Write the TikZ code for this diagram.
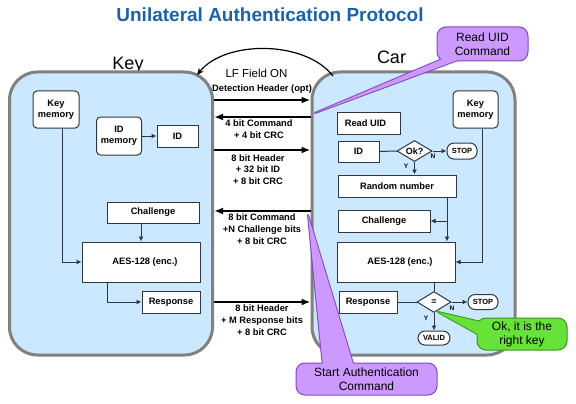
\documentclass[tikz,border=0pt]{standalone}
\usepackage{fontspec}
\setmainfont{Liberation Sans}
\usetikzlibrary{shapes.geometric,arrows.meta,calc}
\definecolor{panelfill}{RGB}{204,232,255}
\definecolor{panelline}{RGB}{128,128,128}
\definecolor{boxline}{RGB}{45,55,65}
\definecolor{titleblue}{RGB}{28,98,168}
\definecolor{lavfill}{RGB}{204,153,255}
\definecolor{lavline}{RGB}{130,70,190}
\definecolor{grnfill}{RGB}{102,226,56}
\definecolor{grnline}{RGB}{56,150,30}
\begin{document}
\begin{tikzpicture}[x=1pt,y=-1pt,
 panel/.style={draw=panelline,line width=3pt,fill=panelfill,rounded corners=28pt,minimum width=203pt,minimum height=283pt,inner sep=0pt},
 blk/.style={draw=boxline,fill=white,line width=1pt,inner sep=0pt,font=\fontsize{9.3}{11.3}\selectfont\bfseries,align=center},
 rblk/.style={blk,rounded corners=4pt},
 term/.style={blk,rounded corners=7pt,font=\fontsize{7.5}{9}\selectfont\bfseries},
 dia/.style={blk,diamond,aspect=1.667,font=\fontsize{9}{10}\selectfont\bfseries},
 msg/.style={font=\fontsize{9.3}{11.8}\selectfont\bfseries,align=center,inner sep=0pt},
 yn/.style={font=\fontsize{6.5}{7}\selectfont\bfseries,inner sep=0pt},
 flow/.style={draw=boxline,line width=1pt,-{Latex[length=5pt,width=5pt]}},
 link/.style={draw=boxline,line width=1pt},
 big/.style={line width=2.6pt,-{Latex[length=9pt,width=7pt]}},
 lfarc/.style={line width=1.2pt,-{Stealth[length=7pt,width=6pt]}},
 callL/.style={draw=lavline,fill=lavfill,line width=1pt,rounded corners=9pt,align=center,font=\fontsize{12}{14}\selectfont,inner sep=0pt},
 callG/.style={draw=grnline,fill=grnfill,line width=1pt,rounded corners=9pt,align=center,font=\fontsize{12}{14}\selectfont,inner sep=0pt}
]
\useasboundingbox (0,0) rectangle (576,404);
% title and headings
\node[anchor=base,font=\fontsize{19}{22}\selectfont\bfseries,text=titleblue,inner sep=0pt] (title) at (270,21.5) {Unilateral Authentication Protocol};
\node[anchor=base,font=\fontsize{18}{20}\selectfont,inner sep=0pt] (keyt) at (128,69.5) {Key};
\node[anchor=base,font=\fontsize{18}{20}\selectfont,inner sep=0pt] (cart) at (391.5,63.3) {Car};
% panels
\node[panel] (keyp) at (111,213.5) {};
\node[panel] (carp) at (413.5,213.5) {};
% LF field arc
\coordinate (lfR) at (333,76);
\coordinate (lfL) at (197,75);
\draw[lfarc] (lfR) .. controls (305,40) and (225,40) .. (lfL);
\node[font=\fontsize{11.5}{13}\selectfont,inner sep=0pt] (lf) at (256.5,73) {LF Field ON};
\node[msg] (det) at (262,89) {Detection Header (opt)};
% messages
\draw[big] (keyp.east |- 0,100) -- (carp.west |- 0,100);
\draw[big] (carp.west |- 0,117) -- (keyp.east |- 0,117);
\node[msg] (m2) at (259,129.5) {4 bit Command\\+ 4 bit CRC};
\draw[big] (keyp.east |- 0,150) -- (carp.west |- 0,150);
\node[msg] (m3) at (258,169.5) {8 bit Header\\+ 32 bit ID\\+ 8 bit CRC};
\draw[big] (carp.west |- 0,211) -- (keyp.east |- 0,211);
\node[msg] (m4) at (262,229) {8 bit Command\\+N Challenge bits\\+ 8 bit CRC};
\draw[big] (keyp.east |- 0,302) -- (carp.west |- 0,302);
\node[msg] (m5) at (262,320) {8 bit Header\\+ M Response bits\\+ 8 bit CRC};
% key side
\node[rblk,minimum width=46pt,minimum height=37pt] (kmem) at (56,109.5) {Key\\memory};
\node[rblk,minimum width=45pt,minimum height=38pt] (idmem) at (119,136) {ID\\memory};
\node[blk,minimum width=41pt,minimum height=22pt] (kid) at (177.5,136) {ID};
\node[blk,minimum width=92pt,minimum height=21pt] (kchal) at (153,212.5) {Challenge};
\node[blk,minimum width=118pt,minimum height=40pt] (kaes) at (141,262) {\hspace*{8pt}AES-128 (enc.)};
\node[blk,minimum width=58pt,minimum height=22pt] (kresp) at (171,302) {Response};
\draw[flow] ([xshift=6pt]kmem.south) |- (kaes.west);
\draw[flow] (idmem) -- (kid);
\draw[flow] (kaes.north |- kchal.south) -- (kaes.north);
\draw[flow] ([xshift=-34pt]kaes.south) |- (kresp.west);
% car side
\node[blk,minimum width=63pt,minimum height=22pt] (rduid) at (368.5,123) {Read UID\hspace*{6pt}};
\node[blk,minimum width=41pt,minimum height=21pt] (cid) at (358.5,151.5) {ID};
\node[dia,minimum width=35pt,minimum height=21pt] (ok) at (414.5,151) {Ok?};
\node[term,minimum width=30pt,minimum height=16pt] (stop1) at (462,151) {STOP};
\node[blk,minimum width=118pt,minimum height=22pt] (rand) at (397,186) {Random number};
\node[blk,minimum width=92pt,minimum height=22pt] (cchal) at (384,221) {Challenge};
\node[rblk,minimum width=45pt,minimum height=37pt] (ckmem) at (475.5,109.5) {Key\\memory};
\node[blk,minimum width=118pt,minimum height=40pt] (caes) at (396,262) {\hspace*{8pt}AES-128 (enc.)};
\node[blk,minimum width=58pt,minimum height=22pt] (cresp) at (368,302) {Response};
\node[dia,minimum width=34pt,minimum height=21pt] (eq) at (434,302) {=};
\node[term,minimum width=30pt,minimum height=15pt] (stop2) at (483,302) {STOP};
\node[term,minimum width=32pt,minimum height=14pt] (valid) at (434,338) {VALID};
\draw[link] (cid) -- (ok);
\draw[flow] (ok) -- (stop1);
\node[yn] (n1) at (433,156) {N};
\draw[flow] (ok.south) -- (ok.south |- rand.north);
\node[yn] (y1) at (406,166) {Y};
\draw[flow] ([xshift=50pt]rand.south) -- ([xshift=50pt]rand.south |- caes.north);
\draw[flow] ([xshift=50pt]rand.south |- cchal.east) -- (cchal.east);
\draw[flow] ([xshift=6.5pt]ckmem.south) |- (caes.east);
\draw[link] (eq.north |- caes.south) -- (eq.north);
\draw[link] (cresp) -- (eq);
\draw[flow] (eq) -- (stop2);
\node[yn] (n2) at (452,308) {N};
\draw[flow] (eq) -- (valid);
\node[yn] (y2) at (426,318) {Y};
% callout: Read UID Command
\coordinate (cuT) at (315,113);
\coordinate (cuA) at (447,57);
\coordinate (cuB) at (466,57);
\filldraw[fill=lavfill,draw=lavline,line width=2pt,line join=round] (cuT) -- (cuA) -- (cuB) -- cycle;
\node[callL,minimum width=91pt,minimum height=34pt] (cu) at (482.5,44) {Read UID\\Command};
\fill[lavfill] (cuT) -- (cuA) -- (cuB) -- cycle;
% callout: Start Authentication Command
\coordinate (csT) at (308,215);
\coordinate (csA) at (323,367);
\coordinate (csB) at (354,367);
\filldraw[fill=lavfill,draw=lavline,line width=2pt,line join=round] (csT) -- (csA) -- (csB) -- cycle;
\node[callL,minimum width=141pt,minimum height=32pt] (cs) at (366.5,379) {Start Authentication\\Command};
\fill[lavfill] (csT) -- (csA) -- (csB) -- cycle;
% callout: Ok, it is the right key
\coordinate (cgT) at (438,312);
\coordinate (cgA) at (481,322);
\coordinate (cgB) at (481,336);
\filldraw[fill=grnfill,draw=grnline,line width=2pt,line join=round] (cgT) -- (cgA) -- (cgB) -- cycle;
\node[callG,minimum width=90pt,minimum height=32pt] (cg) at (522,334) {Ok, it is the\\right key};
\fill[grnfill] (cgT) -- (cgA) -- (cgB) -- cycle;
\end{tikzpicture}
\end{document}
